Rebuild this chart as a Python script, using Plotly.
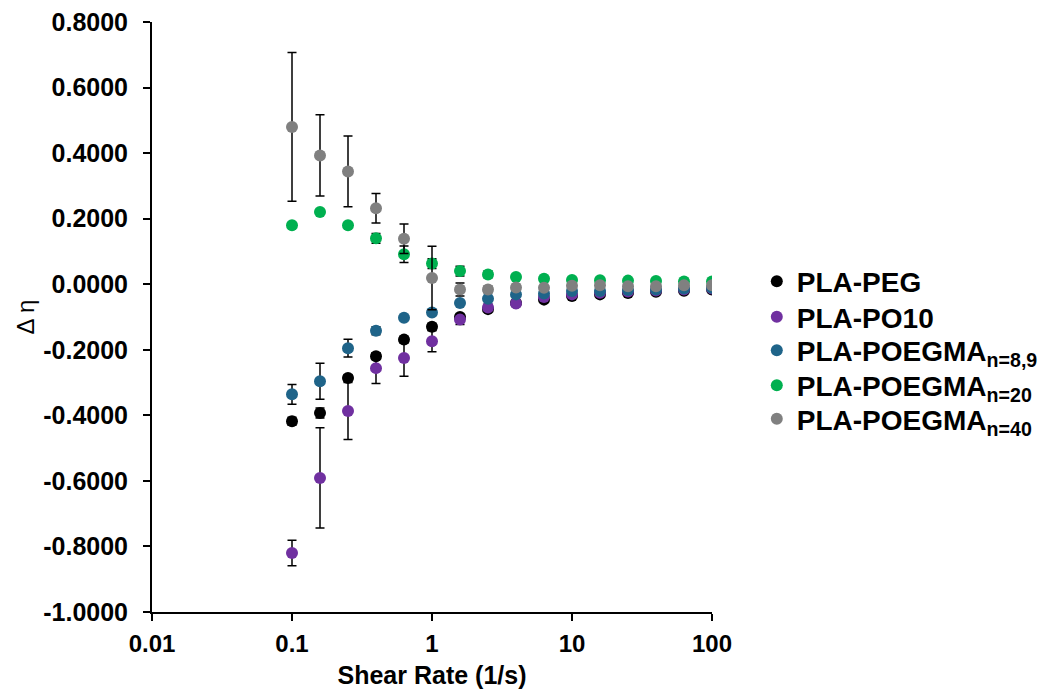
import plotly.graph_objects as go

shear_rate = [0.1, 0.1585, 0.2512, 0.3981, 0.631, 1.0, 1.585, 2.512, 3.981, 6.31,
              10.0, 15.85, 25.12, 39.81, 63.1, 100.0]

series_names = ["PLA-PEG", "PLA-PO10", "PLA-POEGMA<sub>n=8,9</sub>",
                "PLA-POEGMA<sub>n=20</sub>", "PLA-POEGMA<sub>n=40</sub>"]
series_colors = ["#000000", "#7030A0", "#1F6489", "#00B050", "#808080"]

peg = [-0.418, -0.393, -0.286, -0.220, -0.169, -0.130, -0.100, -0.076, -0.057, -0.047,
       -0.036, -0.031, -0.027, -0.023, -0.020, -0.016]
peg_err = [0.012, 0.015, 0.010, 0.010, 0.010, 0.010, 0.008, 0.005, 0.004, 0.003,
           0.003, 0.002, 0.002, 0.002, 0.002, 0.002]

po10 = [-0.820, -0.591, -0.387, -0.256, -0.225, -0.174, -0.108, -0.071, -0.059, -0.039,
        -0.031, -0.026, -0.022, -0.019, -0.016, -0.013]
po10_err = [0.039, 0.153, 0.087, 0.047, 0.056, 0.032, 0.015, 0.010, 0.008, 0.005,
            0.004, 0.003, 0.003, 0.002, 0.002, 0.002]

poegma_89 = [-0.336, -0.296, -0.195, -0.142, -0.102, -0.086, -0.057, -0.044, -0.031, -0.028,
             -0.021, -0.021, -0.018, -0.016, -0.013, -0.011]
poegma_89_err = [0.030, 0.055, 0.027, 0.012, 0.006, 0.005, 0.004, 0.003, 0.003, 0.002,
                 0.002, 0.002, 0.002, 0.002, 0.002, 0.002]

poegma_20 = [0.180, 0.220, 0.180, 0.140, 0.0915, 0.063, 0.040, 0.030, 0.022, 0.017,
             0.013, 0.012, 0.011, 0.010, 0.008, 0.008]
poegma_20_err = [0.0, 0.0, 0.0, 0.015, 0.025, 0.015, 0.015, 0.010, 0.004, 0.003,
                 0.002, 0.002, 0.002, 0.002, 0.002, 0.002]

poegma_40 = [0.480, 0.393, 0.344, 0.232, 0.139, 0.019, -0.016, -0.016, -0.010, -0.011,
             -0.005, -0.003, -0.006, -0.006, -0.003, -0.003]
poegma_40_err = [0.227, 0.124, 0.108, 0.045, 0.045, 0.097, 0.020, 0.010, 0.005, 0.004,
                 0.003, 0.003, 0.002, 0.002, 0.002, 0.002]

x_tickvals = [0.01, 0.1, 1, 10, 100]
x_ticktext = ["0.01", "0.1", "1", "10", "100"]
y_tickvals = [-1.0, -0.8, -0.6, -0.4, -0.2, 0.0, 0.2, 0.4, 0.6, 0.8]
y_ticktext = [f"{v:.4f}" for v in y_tickvals]

values = [peg, po10, poegma_89, poegma_20, poegma_40]
errors = [peg_err, po10_err, poegma_89_err, poegma_20_err, poegma_40_err]

FONT = "Liberation Sans, Arial, sans-serif"

# one legend per series so entry spacing can match the reference
legend_ids = ["legend", "legend2", "legend3", "legend4", "legend5"]
legend_y = [0.560, 0.500, 0.443, 0.384, 0.327]

fig = go.Figure()
for name, color, yv, ev, lid in zip(series_names, series_colors, values, errors, legend_ids):
    fig.add_trace(go.Scatter(
        x=shear_rate, y=yv, name=name, mode="markers", legend=lid,
        marker=dict(color=color, size=12, line=dict(width=0)),
        error_y=dict(type="data", array=ev, visible=True, color="#000000",
                     thickness=1.5, width=4.5),
    ))

legend_style = dict(
    x=1.08, xanchor="left", yanchor="middle",
    font=dict(family=FONT, size=28, color="#000000", weight="bold"),
    bgcolor="rgba(0,0,0,0)", itemsizing="constant",
)
legend_layout = {lid: dict(legend_style, y=ly) for lid, ly in zip(legend_ids, legend_y)}

fig.update_layout(
    width=1047, height=694,
    margin=dict(l=152, r=335, t=22, b=82, autoexpand=False),
    paper_bgcolor="white", plot_bgcolor="white",
    font=dict(family=FONT, color="#000000"),
    showlegend=True,
    xaxis=dict(
        type="log", range=[-2, 2], tickvals=x_tickvals, ticktext=x_ticktext,
        showline=True, linecolor="#000000", linewidth=2,
        ticks="outside", ticklen=7, tickwidth=2, tickcolor="#000000",
        showgrid=False, zeroline=False, ticklabelstandoff=2, automargin=False,
        tickfont=dict(family=FONT, size=24, weight="bold"),
        title=dict(text="Shear Rate (1/s)", standoff=11,
                   font=dict(family=FONT, size=25, weight="bold")),
    ),
    yaxis=dict(
        range=[-1.0, 0.8], tickvals=y_tickvals, ticktext=y_ticktext,
        showline=True, linecolor="#000000", linewidth=2,
        ticks="outside", ticklen=7, tickwidth=2, tickcolor="#000000",
        showgrid=False, zeroline=False, ticklabelstandoff=10, automargin=False,
        tickfont=dict(family=FONT, size=25, weight="bold"),
        title=dict(text="Δ η", standoff=2,
                   font=dict(family=FONT, size=24)),
    ),
    **legend_layout,
)

fig.write_html("out.html")
